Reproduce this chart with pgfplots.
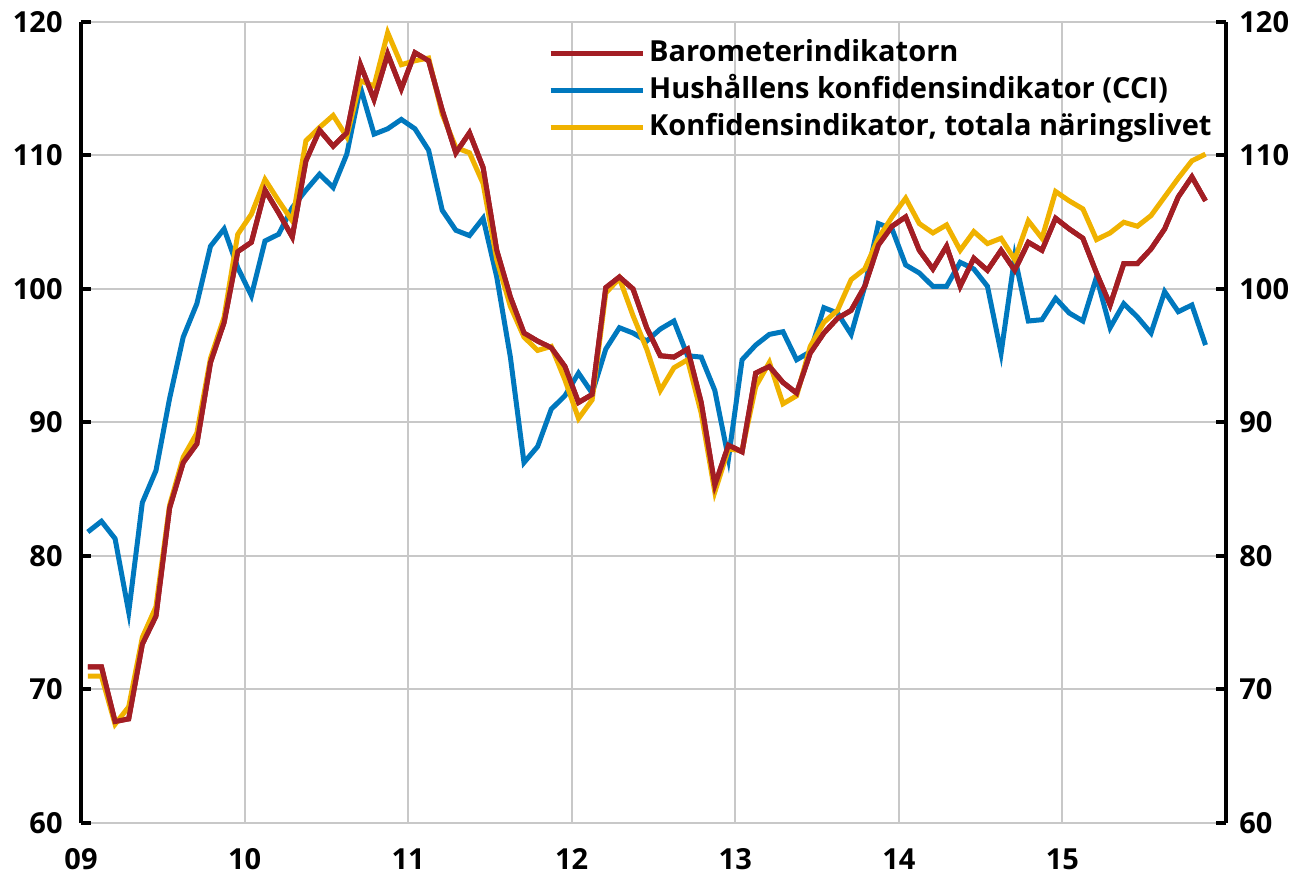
\documentclass[border=0pt]{standalone}
\usepackage{pgfplots}
\usepackage{pgfplotstable}
\pgfplotsset{compat=1.18}
\usepackage{fontspec}
\setmainfont{Open Sans}
\definecolor{cred}{RGB}{163,30,36}
\definecolor{cblue}{RGB}{0,120,190}
\definecolor{cyell}{RGB}{240,178,0}
\definecolor{cgrid}{RGB}{200,200,200}
\pgfplotstableread{
m baro cci konf
0 71.7 81.8 71.0
1 71.7 82.6 71.0
2 67.6 81.3 67.4
3 67.8 75.8 68.7
4 73.4 84.0 73.9
5 75.5 86.4 76.2
6 83.6 91.8 83.8
7 87.0 96.4 87.4
8 88.4 98.9 89.2
9 94.5 103.2 94.8
10 97.5 104.5 97.9
11 102.8 101.6 104.1
12 103.5 99.5 105.6
13 107.4 103.6 108.2
14 105.7 104.1 106.6
15 103.9 106.1 105.1
16 109.6 107.4 111.1
17 111.9 108.6 112.1
18 110.7 107.6 113.0
19 111.7 110.1 111.4
20 116.8 115.1 115.6
21 114.2 111.6 115.2
22 117.6 112.0 119.2
23 115.0 112.7 116.8
24 117.7 112.0 117.1
25 117.1 110.4 117.3
26 113.4 105.9 113.1
27 110.2 104.4 110.6
28 111.7 104.0 110.2
29 109.1 105.3 107.9
30 102.9 100.9 102.2
31 99.4 94.9 98.7
32 96.7 87.0 96.4
33 96.1 88.2 95.4
34 95.6 91.0 95.7
35 94.2 92.0 93.2
36 91.5 93.7 90.3
37 92.1 92.2 91.7
38 100.1 95.5 99.7
39 100.9 97.1 100.8
40 100.0 96.7 98.0
41 97.1 96.1 95.5
42 95.0 97.0 92.4
43 94.9 97.6 94.1
44 95.5 95.0 94.7
45 91.5 94.9 90.7
46 85.3 92.4 84.8
47 88.3 87.3 88.0
48 87.8 94.7 87.9
49 93.7 95.8 92.7
50 94.2 96.6 94.5
51 93.0 96.8 91.4
52 92.2 94.7 92.0
53 95.2 95.3 95.7
54 96.7 98.6 97.5
55 97.8 98.2 98.4
56 98.4 96.6 100.7
57 100.2 100.2 101.5
58 103.3 104.9 103.8
59 104.7 104.5 105.4
60 105.4 101.8 106.8
61 102.9 101.2 104.9
62 101.5 100.2 104.2
63 103.2 100.2 104.8
64 100.2 102.0 102.9
65 102.3 101.5 104.3
66 101.4 100.2 103.4
67 102.9 95.2 103.8
68 101.4 102.4 102.2
69 103.5 97.6 105.1
70 102.9 97.7 103.8
71 105.3 99.3 107.3
72 104.5 98.2 106.6
73 103.8 97.6 106.0
74 101.2 100.9 103.7
75 98.8 97.1 104.2
76 101.9 98.9 105.0
77 101.9 97.9 104.7
78 103.0 96.7 105.5
79 104.5 99.8 106.9
80 106.9 98.3 108.3
81 108.4 98.8 109.6
82 106.6 95.8 110.1
}\datatable
\begin{document}
\begin{tikzpicture}
\pgfplotsset{
  common/.style={
    scale only axis, width=572.5pt, height=400.5pt,
    xmin=0, xmax=84, ymin=60, ymax=120,
    ytick={60,70,...,120},
    /pgf/number format/assume math mode=true,
    major tick length=5pt,
    tick align=inside,
  }
}
\begin{axis}[common,
  separate axis lines,
  x axis line style={draw=none},
  y axis line style={line width=2pt, black},
  xtick={0,12,...,72},
  xticklabels={09,10,11,12,13,14,15},
  xtick style={draw=none},
  ytick style={line width=2pt, black},
  ytick pos=both,
  yticklabel pos=left,
  xmajorgrids, ymajorgrids,
  grid style={line width=1pt, cgrid},
  xticklabel style={font=\bfseries\fontsize{14.5}{17}\selectfont, inner sep=0pt, anchor=north, yshift=-12.5pt},
  yticklabel style={font=\bfseries\fontsize{14.5}{17}\selectfont, inner sep=0pt, anchor=east, xshift=-9pt},
  legend cell align=left,
  legend style={draw=none, fill=none, at={(rel axis cs:1,1)}, anchor=north east,
    xshift=-5pt, yshift=-6.5pt, inner sep=0pt,
    font=\bfseries\fontsize{14.5}{17}\selectfont,
    nodes={text height=11pt, text depth=3.5pt, inner sep=2pt},
    row sep=0pt},
  legend image code/.code={\draw[#1, line width=2.5pt] (0pt,0pt) -- (46pt,0pt);},
  every axis plot/.append style={line width=2.5pt, line join=miter},
]
\addplot[cred, mark=none] table[x expr=\thisrow{m}+0.5, y=baro] {\datatable};
\addlegendentry{Barometerindikatorn}
\addplot[cblue, mark=none] table[x expr=\thisrow{m}+0.5, y=cci] {\datatable};
\addlegendentry{Hushållens konfidensindikator (CCI)}
\addplot[cyell, mark=none] table[x expr=\thisrow{m}+0.5, y=konf] {\datatable};
\addlegendentry{Konfidensindikator, totala näringslivet}
\addplot[cred, mark=none, forget plot] table[x expr=\thisrow{m}+0.5, y=baro] {\datatable};
\end{axis}
\begin{axis}[common,
  hide x axis,
  axis y line*=right,
  y axis line style={draw=none},
  ytick style={draw=none},
  yticklabel style={font=\bfseries\fontsize{14.5}{17}\selectfont, inner sep=0pt, anchor=west, xshift=6.5pt},
]
\end{axis}
\pgfresetboundingbox
\path[use as bounding box] (-40.5pt,-27pt) rectangle (607pt,411.5pt);
\end{tikzpicture}
\end{document}
